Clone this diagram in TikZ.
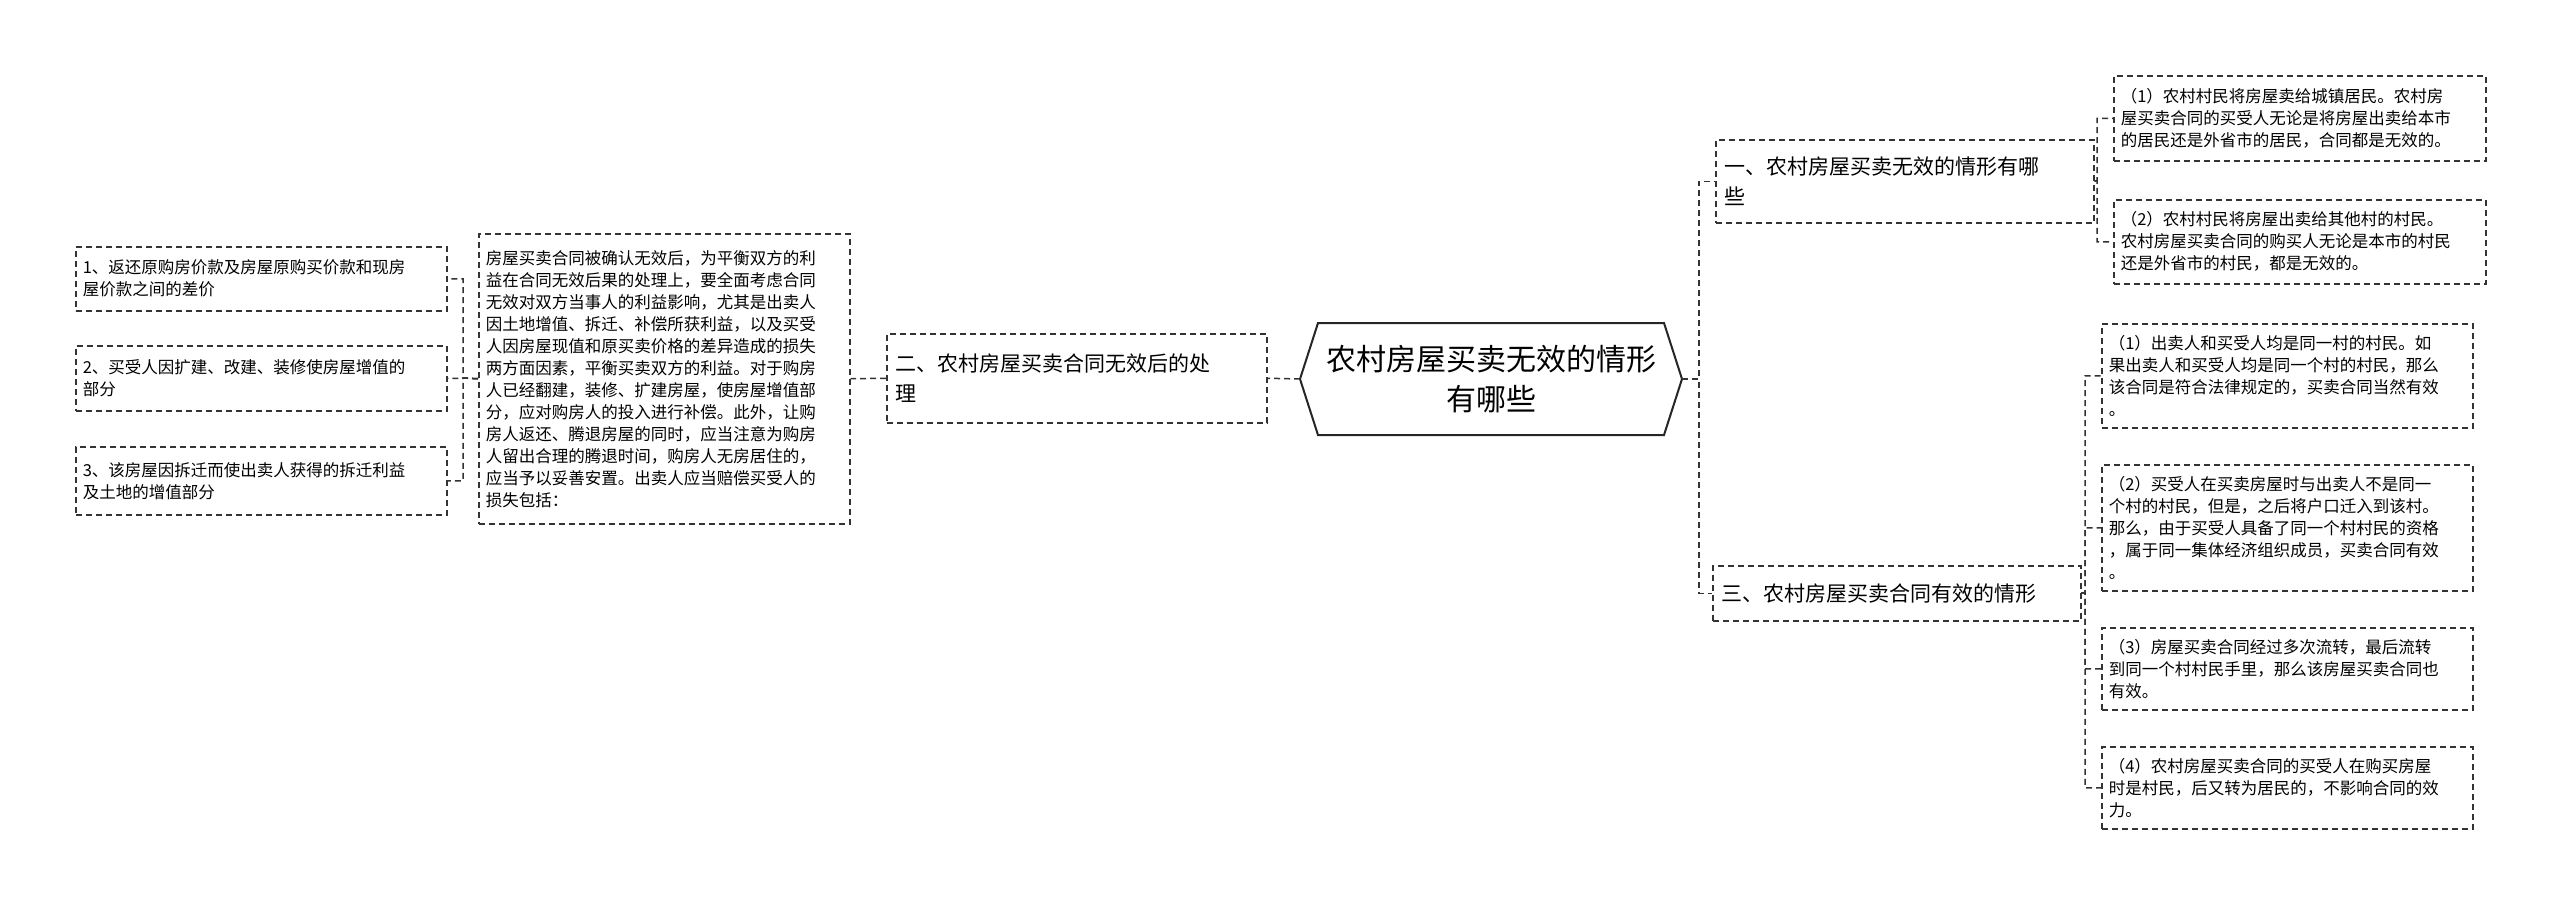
\documentclass[tikz,border=0pt]{standalone}
\usepackage{fontspec}
\setmainfont{Noto Sans CJK SC}
\begin{document}
\begin{tikzpicture}[x=1pt,y=-1pt,
  box/.style={draw=black!80,dash pattern=on 6pt off 4pt,line width=1.5pt,align=left,inner sep=7pt,font=\fontsize{16.5}{22}\selectfont,anchor=north west},
  br/.style={box,font=\fontsize{21}{30}\selectfont,inner sep=9pt},
  con/.style={draw=black!80,dash pattern=on 6pt off 4pt,line width=1.5pt}]
\useasboundingbox (0,0) rectangle (2560,922);
% center
\draw[line width=2pt,black!85] (1300,379)--(1318,323)--(1664,323)--(1682,379)--(1664,435)--(1318,435)--cycle;
\node[font=\fontsize{30}{40}\selectfont,align=center] (c) at (1491,379) {农村房屋买卖无效的情形\\有哪些};
\coordinate (ce) at (1682,379);
\coordinate (cw) at (1300,379);
% branches
\node[br,text width=360pt,minimum height=83pt] (b1) at (1715,139) {一、农村房屋买卖无效的情形有哪\\些};
\node[br,text width=350pt,minimum height=55pt] (b3) at (1712,565) {三、农村房屋买卖合同有效的情形};
\node[br,text width=362pt,minimum height=89pt] (b2) at (886,333) {二、农村房屋买卖合同无效后的处\\理};
% right top leaves
\node[box,text width=358pt,minimum height=85pt] (r1) at (2113,75) {（1）农村村民将房屋卖给城镇居民。农村房\\屋买卖合同的买受人无论是将房屋出卖给本市\\的居民还是外省市的居民，合同都是无效的。};
\node[box,text width=358pt,minimum height=84pt] (r2) at (2113,199) {（2）农村村民将房屋出卖给其他村的村民。\\农村房屋买卖合同的购买人无论是本市的村民\\还是外省市的村民，都是无效的。};
% right bottom leaves
\node[box,text width=357pt,minimum height=104pt] (s1) at (2101,323) {（1）出卖人和买受人均是同一村的村民。如\\果出卖人和买受人均是同一个村的村民，那么\\该合同是符合法律规定的，买卖合同当然有效\\。};
\node[box,text width=357pt,minimum height=126pt] (s2) at (2101,464) {（2）买受人在买卖房屋时与出卖人不是同一\\个村的村民，但是，之后将户口迁入到该村。\\那么，由于买受人具备了同一个村村民的资格\\，属于同一集体经济组织成员，买卖合同有效\\。};
\node[box,text width=357pt,minimum height=82pt] (s3) at (2101,627) {（3）房屋买卖合同经过多次流转，最后流转\\到同一个村村民手里，那么该房屋买卖合同也\\有效。};
\node[box,text width=357pt,minimum height=82pt] (s4) at (2101,746) {（4）农村房屋买卖合同的买受人在购买房屋\\时是村民，后又转为居民的，不影响合同的效\\力。};
% long box
\node[box,text width=357pt,minimum height=290pt] (t) at (478,233) {房屋买卖合同被确认无效后，为平衡双方的利\\益在合同无效后果的处理上，要全面考虑合同\\无效对双方当事人的利益影响，尤其是出卖人\\因土地增值、拆迁、补偿所获利益，以及买受\\人因房屋现值和原买卖价格的差异造成的损失\\两方面因素，平衡买卖双方的利益。对于购房\\人已经翻建，装修、扩建房屋，使房屋增值部\\分，应对购房人的投入进行补偿。此外，让购\\房人返还、腾退房屋的同时，应当注意为购房\\人留出合理的腾退时间，购房人无房居住的，\\应当予以妥善安置。出卖人应当赔偿买受人的\\损失包括：};
% left leaves
\node[box,text width=357pt,minimum height=64pt] (l1) at (75,246) {1、返还原购房价款及房屋原购买价款和现房\\屋价款之间的差价};
\node[box,text width=357pt,minimum height=65pt] (l2) at (75,345) {2、买受人因扩建、改建、装修使房屋增值的\\部分};
\node[box,text width=357pt,minimum height=68pt] (l3) at (75,446) {3、该房屋因拆迁而使出卖人获得的拆迁利益\\及土地的增值部分};
% connectors
\path[con] (ce) -- (1699,379) |- (b1.west);
\path[con] (ce) -- (1699,379) |- (b3.west);
\path[con] (b1.east) -- (2097,180.5) |- (r1.west);
\path[con] (b1.east) -- (2097,180.5) |- (r2.west);
\foreach \n in {s1,s2,s3,s4} \path[con] (b3.east) -- (2085,592.5) |- (\n.west);
\path[con] (cw) -- (b2.east);
\path[con] (b2.west) -- (t.east);
\foreach \n in {l1,l2,l3} \path[con] (t.west) -- (463,378) |- (\n.east);
\end{tikzpicture}
\end{document}
